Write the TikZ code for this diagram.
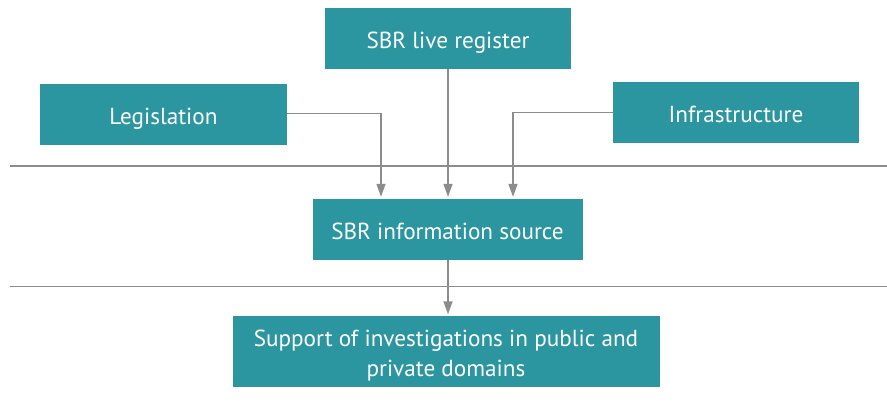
\documentclass[tikz,border=0pt]{standalone}
\usepackage{fontspec}
\setmainfont{PT Sans}
\usetikzlibrary{arrows.meta}
\definecolor{tealbox}{RGB}{43,150,160}
\definecolor{linegray}{RGB}{140,140,140}
\begin{document}
\begin{tikzpicture}[x=1pt,y=-1pt,
  box/.style={fill=tealbox,draw=none,text=white,inner sep=0pt,font=\fontsize{23.2}{30}\selectfont,align=center,text height=20pt,text depth=0pt},
  boxtext/.style={text=white,inner sep=0pt,font=\fontsize{23.2}{30}\selectfont,align=center},
  conn/.style={draw=linegray,line width=1.5pt,-{Triangle[length=13pt,width=9pt]},shorten >=2pt},
  sep/.style={draw=linegray,line width=1.5pt}]
\useasboundingbox (0,0) rectangle (887,403);
\fill[white] (0,0) rectangle (887,403);
\draw[sep] (10,166) -- (887,166);
\draw[sep] (10,286.5) -- (887,286.5);
\node[box,minimum width=246pt,minimum height=61pt] (live) at (448,38.5) {SBR live register};
\node[box,minimum width=247pt,minimum height=61pt] (leg) at (163.5,114.5) {Legislation};
\node[box,minimum width=246pt,minimum height=61pt] (infra) at (736,112.5) {Infrastructure};
\node[box,minimum width=270pt,minimum height=61pt] (info) at (447.5,229.5) {SBR information source};
\node[box,minimum width=427pt,minimum height=71pt] (sup) at (446,352) {};
\node[boxtext] (suptext) at ([yshift=-4pt]sup.center) {Support of investigations in public and\\private domains};
\draw[conn] (live.south) -- (live.south |- info.north);
\draw[conn] (leg.east |- 0,113.5) -| (info.north -| 381,0);
\draw[conn] (infra.west |- 0,112.5) -| (info.north -| 513,0);
\draw[conn] (info.south -| 448,0) -- (sup.north -| 448,0);
\end{tikzpicture}
\end{document}
